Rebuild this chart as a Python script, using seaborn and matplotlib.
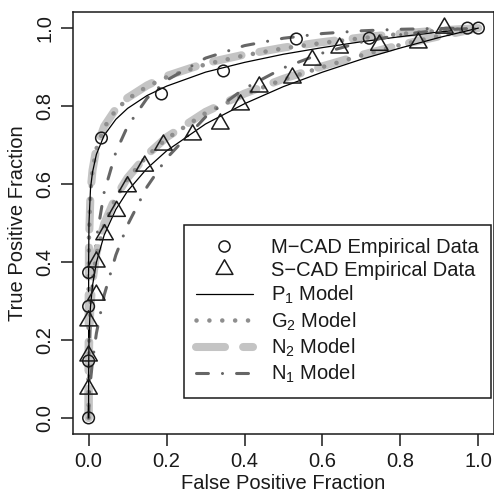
import numpy as np
import pandas as pd
import matplotlib
matplotlib.use('Agg')
import matplotlib.pyplot as plt
from matplotlib.lines import Line2D
from matplotlib.path import Path
import seaborn as sns

# Empirical ROC points
mcad_fpf = [0.0, 0.0, 0.0, 0.0, 0.033, 0.187, 0.346, 0.533, 0.72, 0.972, 1.0]
mcad_tpf = [0.0, 0.146, 0.286, 0.373, 0.718, 0.831, 0.89, 0.972, 0.974, 1.0, 1.0]

scad_fpf = [0.0, 0.0, 0.0, 0.02, 0.02, 0.041, 0.072, 0.10, 0.144, 0.192, 0.267, 0.338,
            0.39, 0.438, 0.523, 0.574, 0.644, 0.746, 0.846, 0.913]
scad_tpf = [0.074, 0.159, 0.249, 0.315, 0.40, 0.47, 0.53, 0.593, 0.646, 0.70, 0.726, 0.754,
            0.803, 0.849, 0.872, 0.918, 0.949, 0.956, 0.962, 1.0]

# Fitted model curves, M-CAD
fpf_m = [0, 0.0001, 0.001, 0.005, 0.01, 0.02, 0.04, 0.07, 0.1, 0.15, 0.2, 0.3, 0.4, 0.5, 0.6, 0.7, 0.8, 0.9, 1.0]
p1_m = [0, 0.40, 0.50, 0.59, 0.63, 0.676, 0.725, 0.766, 0.794, 0.827, 0.851, 0.887, 0.912, 0.933, 0.950, 0.965, 0.978, 0.990, 1.0]
g2_m = [0, 0.33, 0.47, 0.585, 0.635, 0.69, 0.745, 0.79, 0.818, 0.85, 0.874, 0.907, 0.93, 0.948, 0.962, 0.974, 0.985, 0.993, 1.0]
n2_m = [0, 0.30, 0.45, 0.58, 0.635, 0.692, 0.748, 0.793, 0.821, 0.853, 0.877, 0.91, 0.932, 0.95, 0.964, 0.976, 0.986, 0.994, 1.0]
n1_m = [0, 0.038, 0.127, 0.266, 0.353, 0.459, 0.579, 0.682, 0.748, 0.820, 0.866, 0.923, 0.955, 0.974, 0.986, 0.993, 0.997, 0.999, 1.0]

# Fitted model curves, S-CAD
fpf_s = [0, 0.0001, 0.001, 0.003, 0.005, 0.01, 0.02, 0.04, 0.07, 0.1, 0.15, 0.2, 0.3, 0.4, 0.5, 0.6, 0.7, 0.8, 0.9, 1.0]
p1_s = [0, 0.115, 0.197, 0.255, 0.287, 0.339, 0.399, 0.469, 0.535, 0.582, 0.640, 0.685, 0.754, 0.806, 0.850, 0.887, 0.920, 0.949, 0.976, 1.0]
g2_s = [0, 0.09, 0.18, 0.25, 0.29, 0.35, 0.42, 0.495, 0.565, 0.613, 0.672, 0.716, 0.782, 0.83, 0.868, 0.90, 0.93, 0.957, 0.98, 1.0]
n2_s = [0, 0.08, 0.17, 0.245, 0.287, 0.35, 0.422, 0.498, 0.568, 0.616, 0.675, 0.72, 0.785, 0.832, 0.87, 0.902, 0.931, 0.957, 0.979, 1.0]
n1_s = [0, 0.007, 0.034, 0.070, 0.096, 0.145, 0.217, 0.315, 0.418, 0.495, 0.593, 0.666, 0.772, 0.845, 0.898, 0.936, 0.964, 0.983, 0.995, 1.0]

tick_vals = [0.0, 0.2, 0.4, 0.6, 0.8, 1.0]
tick_labels = ['0.0', '0.2', '0.4', '0.6', '0.8', '1.0']
legend_labels = ['M\u2212CAD Empirical Data', 'S\u2212CAD Empirical Data',
                 'P$_1$ Model', 'G$_2$ Model', 'N$_2$ Model', 'N$_1$ Model']

sns.set_style('ticks')
plt.rcParams['font.family'] = ['Liberation Sans', 'DejaVu Sans']
plt.rcParams['mathtext.default'] = 'regular'
plt.rcParams['mathtext.fontset'] = 'custom'
plt.rcParams['mathtext.rm'] = 'Liberation Sans'
fs = 14.5
ink = '#1a1a1a'

# line styles for the four models
sty_n2 = dict(color='#c4c4c4', lw=5.8, linestyle=(0, (3.6, 2.25)), dash_capstyle='round', solid_capstyle='round')
sty_g2 = dict(color='#8e8e8e', lw=3.3, linestyle=(0, (0.01, 2.8)), dash_capstyle='round')
sty_n1 = dict(color='#666666', lw=2.2, linestyle=(0, (3.9, 4.6, 0.01, 4.6)), dash_capstyle='round')
sty_p1 = dict(color='black', lw=0.9)

# equilateral triangle (R pch 2)
tri = Path([(-1, -0.577), (1, -0.577), (0, 1.155), (-1, -0.577)],
           [Path.MOVETO, Path.LINETO, Path.LINETO, Path.CLOSEPOLY])

fig = plt.figure(figsize=(4.94, 4.94), dpi=100)
ax = fig.add_axes([73 / 494, 60.5 / 494, 421 / 494, 421 / 494])

for xs, ys_list in [(fpf_m, [n2_m, g2_m, n1_m, p1_m]), (fpf_s, [n2_s, g2_s, n1_s, p1_s])]:
    for ys, sty in zip(ys_list, [sty_n2, sty_g2, sty_n1, sty_p1]):
        sns.lineplot(x=xs, y=ys, ax=ax, estimator=None, sort=False, **sty)

sns.scatterplot(x=mcad_fpf, y=mcad_tpf, ax=ax, marker='o', s=70, facecolors='none',
                edgecolor=ink, linewidth=1.1, zorder=5)
sns.scatterplot(x=scad_fpf, y=scad_tpf, ax=ax, marker=tri, s=210, facecolors='none',
                edgecolor=ink, linewidth=1.1, zorder=5)

ax.set_xlim(-0.04, 1.04)
ax.set_ylim(-0.04, 1.04)
ax.set_xticks(tick_vals)
ax.set_xticklabels(tick_labels)
ax.set_yticks(tick_vals)
ax.set_yticklabels(tick_labels, rotation=90, va='center')
ax.tick_params(direction='out', length=8.5, width=1.1, color=ink, labelsize=fs, labelcolor=ink, pad=5)
for sp in ax.spines.values():
    sp.set_visible(True)
    sp.set_linewidth(1.1)
    sp.set_color(ink)
ax.set_xlabel('False Positive Fraction', fontsize=fs, color=ink, labelpad=2)
ax.set_ylabel('True Positive Fraction', fontsize=fs, color=ink, labelpad=6)
ax.grid(False)

handles = [
    Line2D([], [], ls='', marker='o', ms=8, mfc='none', mec=ink, mew=1.1),
    Line2D([], [], ls='', marker=tri, ms=14, mfc='none', mec=ink, mew=1.1),
    Line2D([], [], **sty_p1),
    Line2D([], [], **sty_g2),
    Line2D([], [], **sty_n2),
    Line2D([], [], **sty_n1),
]
leg = ax.legend(handles, legend_labels, loc='lower right', bbox_to_anchor=(0.993, 0.085),
                borderaxespad=0, fontsize=fs, frameon=True, fancybox=False, framealpha=1,
                edgecolor=ink, handlelength=2.8, handletextpad=0.9, labelspacing=0.2,
                borderpad=0.62)
leg.get_frame().set_linewidth(1.1)
for t in leg.get_texts():
    t.set_color(ink)

fig.savefig('out.png', dpi=100)
